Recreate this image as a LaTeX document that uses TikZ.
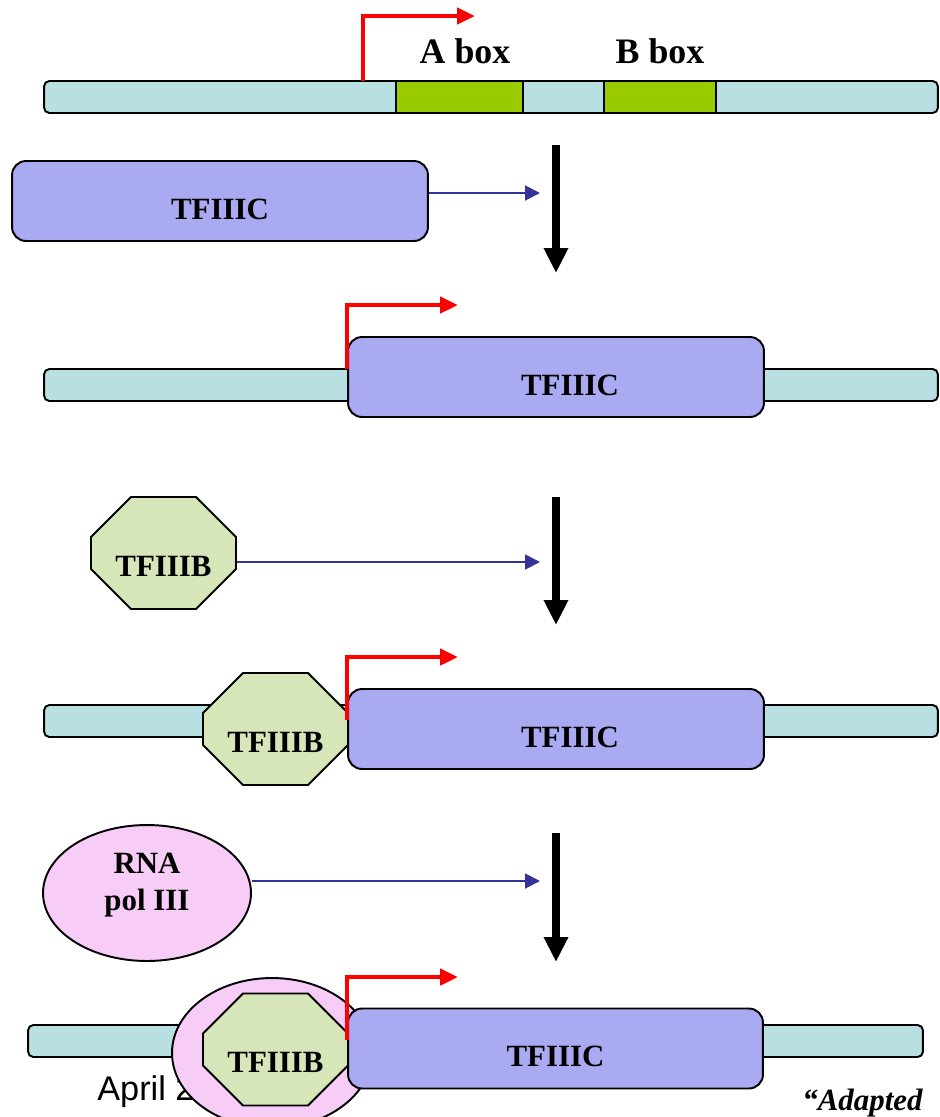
\documentclass[tikz,border=0pt]{standalone}
\usepackage{fontspec}
\setmainfont{Liberation Serif}
\newfontfamily\arialfont{Liberation Sans}
\usepackage{tikz}
\usetikzlibrary{arrows.meta,positioning,shapes.geometric,shapes.misc}
\definecolor{dnacol}{RGB}{184,224,226}
\definecolor{boxcol}{RGB}{153,204,0}
\definecolor{tfccol}{RGB}{170,170,242}
\definecolor{tfbcol}{RGB}{214,230,184}
\definecolor{polcol}{RGB}{247,204,247}
\definecolor{bindcol}{RGB}{51,51,153}
\tikzset{
  lbl/.style={font=\fontsize{17.6}{21.5}\selectfont\bfseries},
  dna/.style={draw,line width=1.1pt,fill=dnacol,rounded corners=3pt,minimum height=0.64cm,inner sep=0pt},
  abox/.style={draw,line width=1.1pt,fill=boxcol,minimum height=0.64cm,inner sep=0pt},
  tfc/.style={draw,line width=1.1pt,fill=tfccol,rounded corners=8pt,minimum width=8.32cm,minimum height=1.6cm,inner sep=0pt,text height=0.72cm,text depth=0pt,lbl},
  tfb/.style={chamfered rectangle,chamfered rectangle sep=0.4cm,draw,line width=1.1pt,fill=tfbcol,minimum width=2.9cm,minimum height=2.24cm,inner sep=0pt,text height=0.92cm,text depth=0pt,lbl},
  pol/.style={ellipse,draw,line width=1.1pt,fill=polcol,minimum width=4.16cm,minimum height=2.72cm,inner sep=0pt,align=center,text depth=0.45cm,lbl},
  tss/.style={-{Triangle[length=0.36cm,width=0.32cm]},red,line width=2.8pt},
  bind/.style={-{Triangle[length=0.3cm,width=0.3cm]},bindcol,line width=1.1pt},
  steparr/.style={-{Triangle[length=0.5cm,width=0.46cm]},line width=4.5pt},
}

\begin{document}
\begin{tikzpicture}[x=0.02cm,y=-0.02cm]
\clip (0,0) rectangle (940,1117);

% promoter with A and B boxes
\node[dna,minimum width=17.88cm] (dna1) at (491,97) {};
\node[abox,minimum width=2.54cm] (abx) at (459.5,97) {};
\node[abox,minimum width=2.24cm] (bbx) at (660,97) {};
\node[lbl,font=\fontsize{20.4}{24}\selectfont\bfseries] (alab) at (465,51) {A box};
\node[lbl,font=\fontsize{20.4}{24}\selectfont\bfseries] (blab) at (660,51) {B box};
\draw[tss] (363,81) |- (475,16);

% TFIIIC comes in
\node[tfc] (tfc1) at (220,201) {TFIIIC};
\coordinate (in1) at (540,193);
\draw[bind] (tfc1.east |- in1) -- (in1);

% steps
\foreach \i/\ya/\yb in {1/145/273,2/497/625,3/833/962}{
  \coordinate (st\i a) at (556,\ya);
  \coordinate (st\i b) at (556,\yb);
  \draw[steparr] (st\i a) -- (st\i b);
}

% TFIIIC bound
\node[dna,minimum width=17.88cm] (dna2) at (491,385) {};
\node[tfc] (tfc2) at (556,377) {\hspace*{0.56cm}TFIIIC};
\draw[tss] (347,369) |- (458,305);

% TFIIIB comes in
\node[tfb] (tfb1) at (163.5,553) {TFIIIB};
\coordinate (in2) at (540,562);
\draw[bind] (tfb1.east |- in2) -- (in2);

% TFIIIB + TFIIIC bound
\node[dna,minimum width=17.88cm] (dna3) at (491,721) {};
\node[tfb] (tfb2) at (275.5,729) {TFIIIB};
\node[tfc] (tfc3) at (556,729) {\hspace*{0.56cm}TFIIIC};
\draw[tss] (347,720) |- (458,657);

% RNA pol III comes in
\node[pol] (pol1) at (147,893) {RNA\\pol III};
\coordinate (in3) at (540,881);
\draw[bind] (pol1.east |- in3) -- (in3);

% full complex
\node[anchor=base west,inner sep=0pt,font=\arialfont\fontsize{19.5}{22}\selectfont] (date) at (97,1100) {April 2};
\node[dna,minimum width=17.9cm] (dna4) at (475.5,1041) {};
\node[pol,minimum width=4cm,minimum height=3cm] (pol2) at (272,1053) {};
\node[tfb] (tfb3) at (275.5,1049.5) {TFIIIB};
\node[tfc,minimum width=8.3cm] (tfc4) at (555.5,1048.5) {TFIIIC};
\draw[tss] (347,1040) |- (458,977);
\node[anchor=base west,inner sep=0pt,font=\fontsize{17.6}{20}\selectfont\bfseries\itshape] (cite) at (802,1110) {“Adapted};
\end{tikzpicture}
\end{document}
